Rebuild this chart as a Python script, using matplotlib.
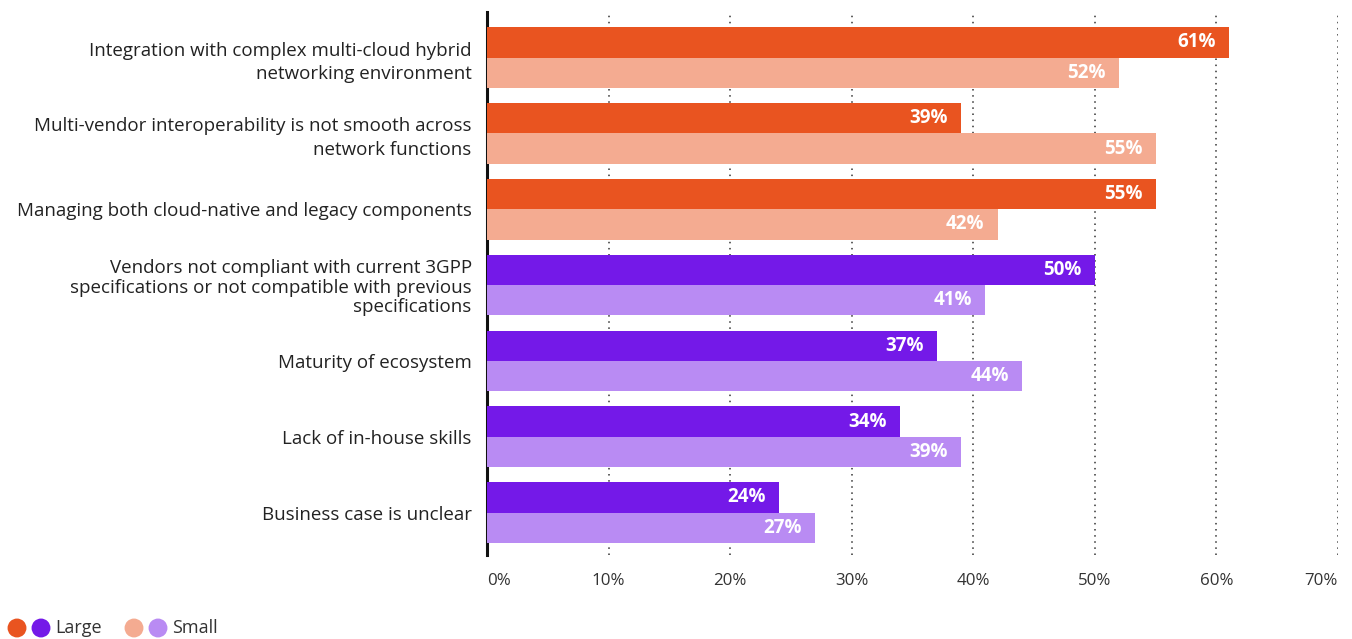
import matplotlib
matplotlib.use("Agg")
import matplotlib.pyplot as plt
import numpy as np

plt.rcParams['font.family'] = ['Open Sans', 'DejaVu Sans']

categories = [
    "Integration with complex multi-cloud hybrid\nnetworking environment",
    "Multi-vendor interoperability is not smooth across\nnetwork functions",
    "Managing both cloud-native and legacy components",
    "Vendors not compliant with current 3GPP\nspecifications or not compatible with previous\nspecifications",
    "Maturity of ecosystem",
    "Lack of in-house skills",
    "Business case is unclear",
]
large = [61, 39, 55, 50, 37, 34, 24]
small = [52, 55, 42, 41, 44, 39, 27]
group = ["orange", "orange", "orange", "purple", "purple", "purple", "purple"]
xticks = [0, 10, 20, 30, 40, 50, 60, 70]
xticklabels = ["0%", "10%", "20%", "30%", "40%", "50%", "60%", "70%"]

colors = {
    "orange": ("#E95420", "#F4AB91"),
    "purple": ("#7419E8", "#B98BF3"),
}

fig = plt.figure(figsize=(13.52, 6.39), dpi=100)
ax = fig.add_axes([487 / 1352, 1 - 555 / 639, (1338 - 487) / 1352, (555 - 12) / 639])

y = np.arange(len(categories))
h = 0.4
for i, (l, s, g) in enumerate(zip(large, small, group)):
    cl, cs = colors[g]
    ax.barh(y[i] - h / 2, l, height=h, color=cl, zorder=3)
    ax.barh(y[i] + h / 2, s, height=h, color=cs, zorder=3)
    for val, yy in ((l, y[i] - h / 2), (s, y[i] + h / 2)):
        ax.annotate(f"{val}%", xy=(val, yy), xytext=(-9.5, 0), textcoords="offset points",
                    ha="right", va="center", color="white", fontsize=13.5,
                    fontweight="bold", zorder=4)

ax.set_xlim(0, 70)
ax.set_ylim(6.56, -0.6)

for xv in xticks[1:]:
    ax.axvline(xv, color="#333333", linestyle=(0, (1, 3)), linewidth=1.1, zorder=1)

for side in ("top", "right", "bottom"):
    ax.spines[side].set_visible(False)
ax.spines["left"].set_linewidth(2.2)
ax.spines["left"].set_color("#111111")

ax.set_yticks(y)
ax.set_yticklabels(categories, fontsize=13.5, color="#222222")
ax.tick_params(axis="y", length=0, pad=11)
for lab in ax.get_yticklabels():
    n = lab.get_text().count("\n") + 1
    lab.set_linespacing(1.38 if n == 2 else 1.08)

ax.set_xticks(xticks)
ax.set_xticklabels(xticklabels, fontsize=12.2, color="#333333")
ax.tick_params(axis="x", length=0, pad=13)
tl = ax.get_xticklabels()
tl[0].set_ha("left")
tl[-1].set_ha("right")

# legend drawn on a full-figure overlay in pixel units
lg = fig.add_axes([0, 0, 1, 1], facecolor="none")
lg.set_xlim(0, 1352)
lg.set_ylim(639, 0)
lg.axis("off")
lg.scatter([17, 41], [628, 628], s=185, color=[colors["orange"][0], colors["purple"][0]], linewidths=0)
lg.text(55, 628, "Large", fontsize=13, color="#333333", va="center", ha="left")
lg.scatter([134, 158], [628, 628], s=185, color=[colors["orange"][1], colors["purple"][1]], linewidths=0)
lg.text(172, 628, "Small", fontsize=13, color="#333333", va="center", ha="left")

fig.savefig("out.png", dpi=100)
